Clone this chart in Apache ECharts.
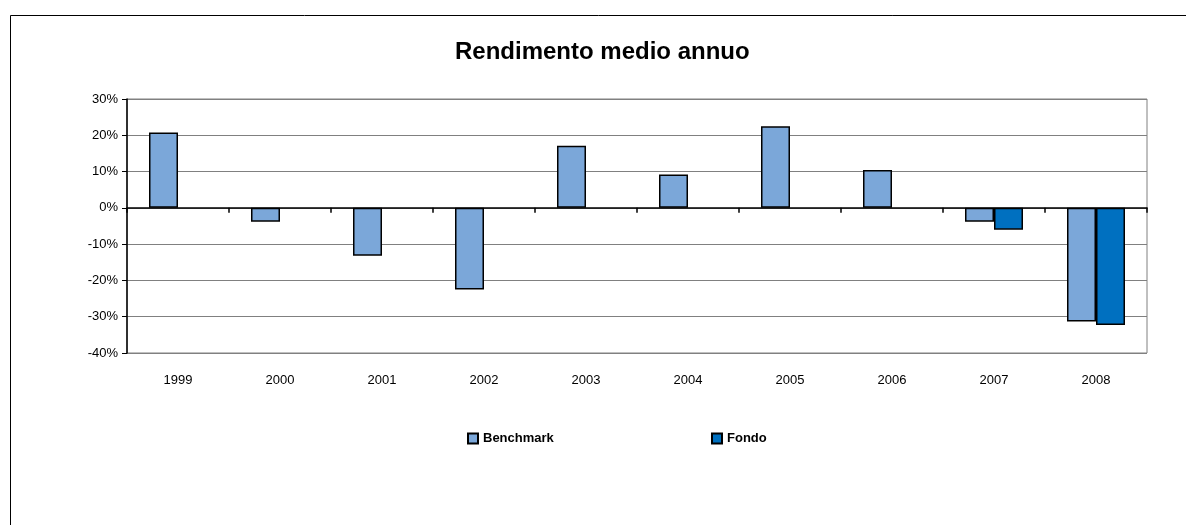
<!DOCTYPE html>
<html>
<head>
<meta charset="utf-8">
<script src="https://cdn.jsdelivr.net/npm/echarts@6/dist/echarts.min.js"></script>
<style>
  html, body { margin: 0; padding: 0; background: #fff; }
  #chart { width: 1186px; height: 525px; }
</style>
</head>
<body>
<div id="chart"></div>
<script>
// dati
const years = ['1999', '2000', '2001', '2002', '2003', '2004', '2005', '2006', '2007', '2008'];
const benchmark = [20.8, -3.8, -13.2, -22.5, 17.1, 9.2, 22.5, 10.4, -3.8, -31.3];
const fondo = [null, null, null, null, null, null, null, null, -6.0, -32.3];
const yTicks = { min: -40, max: 30, step: 10 };

const font = 'Liberation Sans, Arial, sans-serif';

let chart = echarts.init(document.getElementById('chart'));
chart.setOption({
    animation: false,
    title: {
        text: 'Rendimento medio annuo',
        left: 450,
        top: 35,
        textStyle: { fontFamily: font, fontSize: 24, fontWeight: 'bold', color: '#000' }
    },
    graphic: [{
        type: 'rect',
        shape: { x: 10.5, y: 15.5, width: 1200, height: 600 },
        style: { fill: 'none', stroke: '#000', lineWidth: 1 },
        silent: true
    }],
    legend: [{
        data: ['Benchmark'],
        left: 462,
        top: 427,
        icon: 'rect',
        itemWidth: 10,
        itemHeight: 10,
        textStyle: { fontFamily: font, fontSize: 13, fontWeight: 'bold', color: '#000' }
    }, {
        data: ['Fondo'],
        left: 706,
        top: 427,
        icon: 'rect',
        itemWidth: 10,
        itemHeight: 10,
        textStyle: { fontFamily: font, fontSize: 13, fontWeight: 'bold', color: '#000' }
    }],
    grid: {
        left: 127,
        right: 39,
        top: 99,
        bottom: 172,
        show: true,
        borderColor: '#808080',
        borderWidth: 1
    },
    xAxis: [{
        type: 'category',
        data: years,
        axisLine: { onZero: true, lineStyle: { color: '#000', width: 1.5 } },
        axisTick: { show: true, length: 5, lineStyle: { color: '#000', width: 1.5 } },
        axisLabel: { show: false }
    }, {
        type: 'category',
        data: years,
        position: 'bottom',
        axisLine: { show: false, onZero: false },
        axisTick: { show: false },
        axisLabel: { margin: 21, fontFamily: font, fontSize: 13, color: '#000' }
    }],
    yAxis: {
        type: 'value',
        min: yTicks.min,
        max: yTicks.max,
        interval: yTicks.step,
        axisLine: { show: true, lineStyle: { color: '#000', width: 1.5 } },
        axisTick: { show: true, length: 5, lineStyle: { color: '#000' } },
        axisLabel: { formatter: '{value}%', margin: 9, fontFamily: font, fontSize: 13, color: '#000' },
        splitLine: { lineStyle: { color: '#808080', width: 1 } }
    },
    series: [{
        name: 'Benchmark',
        type: 'bar',
        xAxisIndex: 0,
        data: benchmark,
        barWidth: 29,
        barGap: '0%',
        itemStyle: { color: '#7BA7D9', borderColor: '#000', borderWidth: 1.5 }
    }, {
        name: 'Fondo',
        type: 'bar',
        xAxisIndex: 0,
        data: fondo,
        barWidth: 29,
        barGap: '0%',
        itemStyle: { color: '#0070C0', borderColor: '#000', borderWidth: 1.5 }
    }]
});
window.addEventListener('resize', () => chart.resize());
</script>
</body>
</html>
